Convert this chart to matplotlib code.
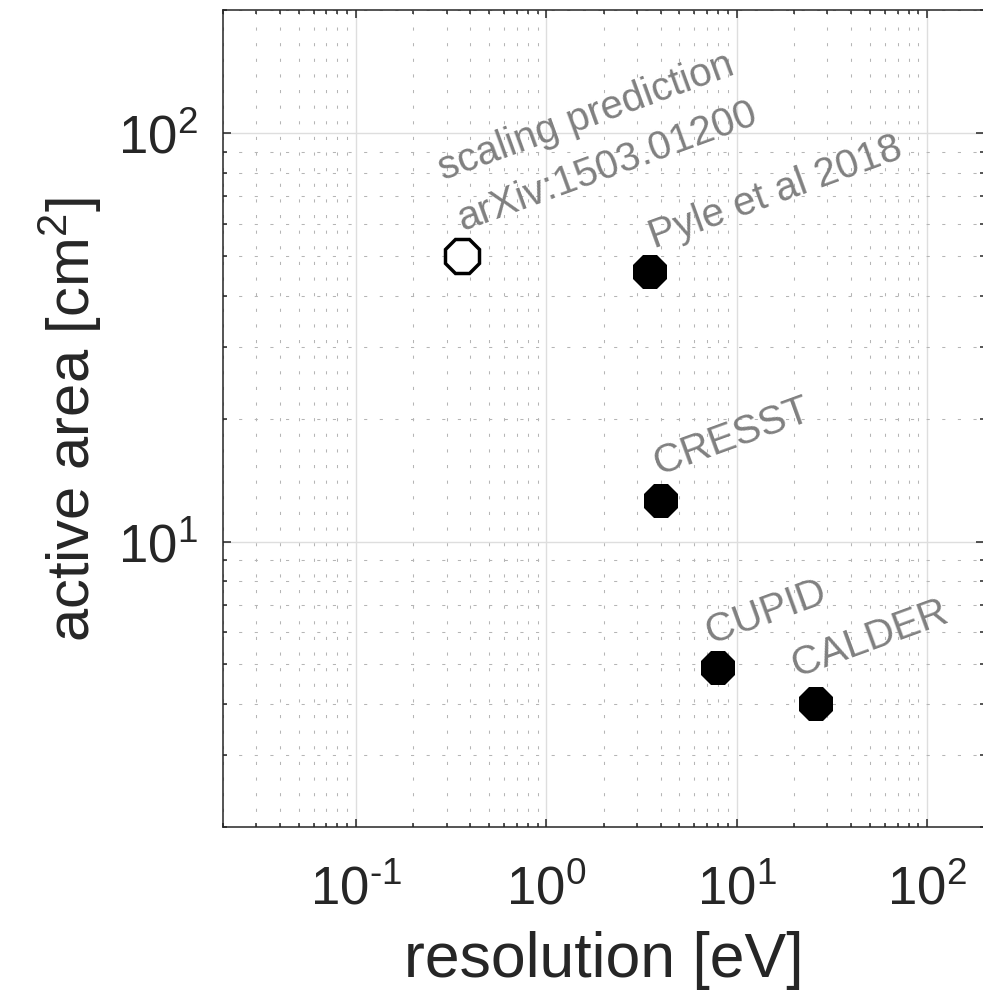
import numpy as np
import matplotlib
matplotlib.use("Agg")
import matplotlib.pyplot as plt
from matplotlib.ticker import LogLocator, FuncFormatter, NullFormatter

plt.rcParams['font.family'] = ['Liberation Sans', 'DejaVu Sans']
plt.rcParams['mathtext.fontset'] = 'custom'
plt.rcParams['mathtext.rm'] = 'Liberation Sans'
plt.rcParams['mathtext.it'] = 'Liberation Sans:italic'
plt.rcParams['mathtext.bf'] = 'Liberation Sans:bold'

# ---- data ----
labels = ["scaling prediction", "Pyle et al 2018", "CRESST", "CUPID", "CALDER"]
resolution_eV = [0.36, 3.5, 4.0, 8.0, 26.0]
area_cm2 = [50.0, 45.6, 12.57, 4.91, 4.0]
filled = [False, True, True, True, True]
label_texts = ["scaling prediction\narXiv:1503.01200", "Pyle et al 2018", "CRESST", "CUPID", "CALDER"]
# text offsets in pixels (dx, dy) of the label anchor
label_offsets = [(-5, 41), (4, 25), (-2, 27), (-7, 25), (-19, 28)]

xlim = (0.02, 200)
ylim = (2, 200)

TXT = '#262626'
fig = plt.figure(figsize=(9.83, 9.95), dpi=100)
ax = fig.add_axes([0.2266, 0.1678, 0.7748, 0.8211])
ax.set_xscale('log')
ax.set_yscale('log')
ax.set_xlim(*xlim)
ax.set_ylim(*ylim)

ax.xaxis.set_major_locator(LogLocator(base=10, numticks=20))
ax.yaxis.set_major_locator(LogLocator(base=10, numticks=20))
ax.xaxis.set_minor_locator(LogLocator(base=10, subs=np.arange(2, 10), numticks=50))
ax.yaxis.set_minor_locator(LogLocator(base=10, subs=np.arange(2, 10), numticks=50))

def fmt(v, pos):
    e = int(round(np.log10(v)))
    if e < 0:
        return r'$\mathregular{10^{\text{-}%d}}$' % (-e)
    return r'$\mathregular{10^{%d}}$' % e

ax.xaxis.set_major_formatter(FuncFormatter(fmt))
ax.yaxis.set_major_formatter(FuncFormatter(fmt))
ax.xaxis.set_minor_formatter(NullFormatter())
ax.yaxis.set_minor_formatter(NullFormatter())

ax.grid(True, which='major', color='#dedede', linewidth=1.0, linestyle='-')
ax.grid(True, which='minor', color='#b5b5b5', linewidth=0.75, linestyle=(0, (3, 12)))
ax.set_axisbelow(True)

ax.tick_params(which='both', direction='in', top=True, right=True, color=TXT,
               labelcolor=TXT, width=1.1, labelsize=38)
ax.tick_params(which='major', length=6)
ax.tick_params(which='minor', length=3.2)
ax.tick_params(axis='x', which='major', pad=27)
ax.tick_params(axis='y', which='major', pad=18)
for s in ax.spines.values():
    s.set_color(TXT)
    s.set_linewidth(1.1)

for x, y, f in zip(resolution_eV, area_cm2, filled):
    if f:
        ax.plot(x, y, marker='8', markersize=26, color='black', markeredgewidth=0, linestyle='none', zorder=5)
    else:
        ax.plot(x, y, marker='8', markersize=27, markerfacecolor='white', markeredgecolor='black',
                markeredgewidth=2.5, linestyle='none', zorder=5)

for x, y, t, (dx, dy) in zip(resolution_eV, area_cm2, label_texts, label_offsets):
    ax.annotate(t, (x, y), xytext=(dx, dy), textcoords='offset pixels', rotation=20,
                rotation_mode='anchor', ha='left', va='baseline', multialignment='left',
                color='#808080', fontsize=29, linespacing=1.55, zorder=6)

ax.set_xlabel('resolution [eV]', fontsize=45, color=TXT, labelpad=11)
ax.set_ylabel(r'active area [cm$^\mathregular{2}$]', fontsize=43, color=TXT, labelpad=10)

fig.savefig('out.png', dpi=100)
